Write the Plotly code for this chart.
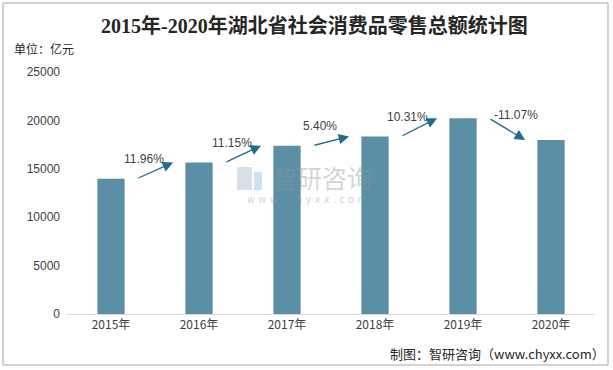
import plotly.graph_objects as go

years = ["2015年", "2016年", "2017年", "2018年", "2019年", "2020年"]
sales = [13978.1, 15649.2, 17394.1, 18333.6, 20224.2, 17984.9]
growth_labels = ["11.96%", "11.15%", "5.40%", "10.31%", "-11.07%"]
y_ticks = [0, 5000, 10000, 15000, 20000, 25000]

BAR = "#5b8fa6"
ARROW = "#1f6c8e"
TXT = "#404040"

xs = list(range(len(years)))
fig = go.Figure()
fig.add_trace(go.Bar(x=xs, y=sales, marker=dict(color=BAR, line=dict(width=0)),
                     width=0.31, hoverinfo="skip"))

L, R, T, B = 67, 18, 72, 56
W, H = 613, 370
pw, ph = W - L - R, H - T - B
def px(x): return (x - L) / pw
def py(y): return (H - B - y) / ph

annotations = []
for i, lab in enumerate(growth_labels):
    x0, x1 = i + 0.295, i + 0.705
    annotations.append(dict(x=x1, y=sales[i + 1], ax=x0, ay=sales[i], xref="x", yref="y",
                            axref="x", ayref="y", showarrow=True, arrowhead=2, arrowsize=1.6,
                            arrowwidth=1.3, arrowcolor=ARROW, text="", standoff=0))
    if sales[i + 1] >= sales[i]:
        annotations.append(dict(x=x0, y=sales[i], xref="x", yref="y", text=lab, showarrow=False,
                                xanchor="center", yanchor="middle", xshift=7, yshift=20,
                                font=dict(family="Liberation Sans, Arial", size=12, color=TXT)))
    else:
        annotations.append(dict(x=x0, y=sales[i], xref="x", yref="y", text=lab, showarrow=False,
                                xanchor="left", yanchor="middle", xshift=3, yshift=3,
                                font=dict(family="Liberation Sans, Arial", size=12, color=TXT)))

WM = "rgba(150,150,150,0.42)"
annotations += [
    dict(x=px(314), y=py(25), xref="paper", yref="paper", text="<b>2015年-2020年湖北省社会消费品零售总额统计图</b>",
         showarrow=False, xanchor="center", yanchor="middle",
         font=dict(family="Liberation Serif, Noto Sans CJK SC", size=20, color="#262626")),
    dict(x=px(12), y=py(48), xref="paper", yref="paper", text="单位：亿元", showarrow=False,
         xanchor="left", yanchor="middle", font=dict(family="Noto Sans CJK SC", size=12, color="#262626")),
    dict(x=px(607), y=py(353), xref="paper", yref="paper", text="制图：智研咨询（www.chyxx.com）",
         showarrow=False, xanchor="right", yanchor="middle",
         font=dict(family="Noto Sans CJK SC", size=13, color="#262626")),
    dict(x=px(322), y=py(177), xref="paper", yref="paper", text="智研咨询", showarrow=False,
         xanchor="center", yanchor="middle", font=dict(family="Noto Sans CJK SC", size=25, color=WM)),
    dict(x=px(307), y=py(199), xref="paper", yref="paper", text="w w w . c h y x x . c o m", showarrow=False,
         xanchor="center", yanchor="middle", font=dict(family="DejaVu Sans", size=10, color=WM)),
]

shapes = [
    dict(type="rect", xref="paper", yref="paper", x0=px(3), x1=px(608), y0=py(365), y1=py(3),
         line=dict(color="#a6a6a6", width=1), fillcolor="rgba(0,0,0,0)", layer="below"),
    dict(type="rect", xref="paper", yref="paper", x0=px(237), x1=px(252), y0=py(190), y1=py(167),
         line=dict(width=0), fillcolor="rgba(160,172,200,0.4)", layer="above"),
    dict(type="rect", xref="paper", yref="paper", x0=px(254), x1=px(262), y0=py(190), y1=py(172),
         line=dict(width=0), fillcolor="rgba(120,180,225,0.4)", layer="above"),
]

fig.update_layout(
    width=W, height=H, margin=dict(l=L, r=R, t=T, b=B, autoexpand=False),
    paper_bgcolor="white", plot_bgcolor="white", showlegend=False,
    bargap=0.69,
    xaxis=dict(tickmode="array", tickvals=xs, ticktext=years, range=[-0.5, 5.5],
               showgrid=False, zeroline=False, showline=True, linecolor="#d9d9d9", linewidth=1,
               ticks="", tickfont=dict(family="Noto Sans CJK SC", size=12, color="#404040")),
    yaxis=dict(range=[0, 25000], tickvals=y_ticks, tickformat="d", showgrid=False, zeroline=False,
               showline=False, ticks="", ticklabelstandoff=6,
               tickfont=dict(family="Liberation Sans, Arial", size=12, color="#404040")),
    annotations=annotations, shapes=shapes,
)
fig.write_html("out.html", config={"displayModeBar": False},
               post_script="document.body.style.margin='0';document.body.style.padding='0';")
